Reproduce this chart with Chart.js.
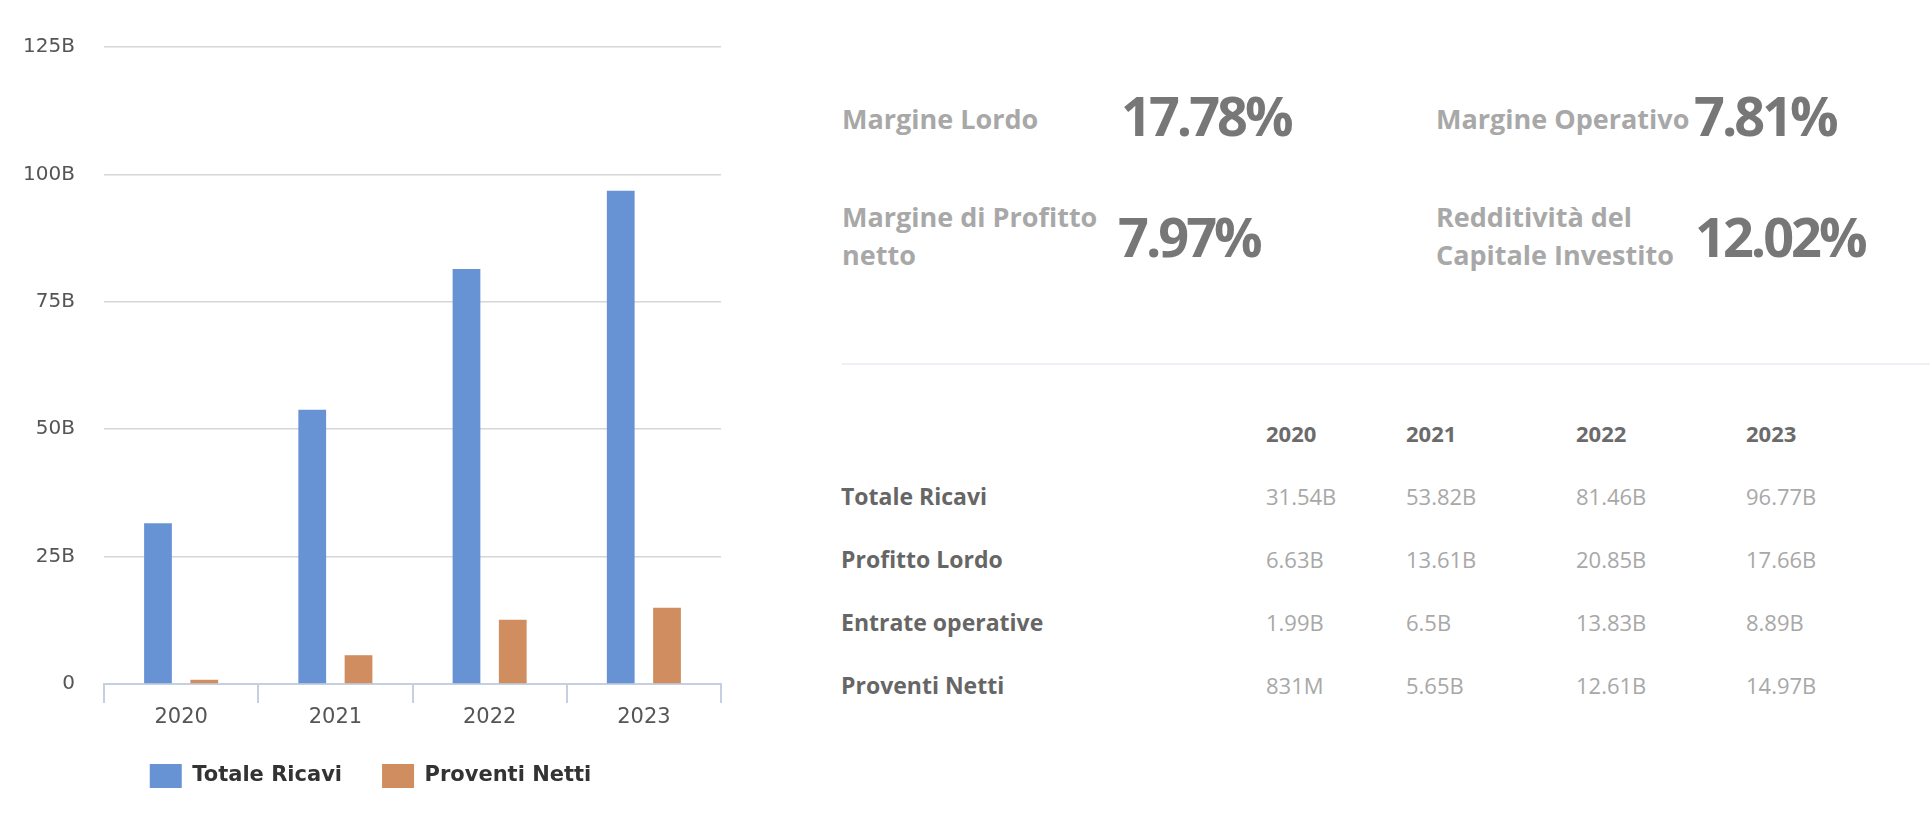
<!DOCTYPE html>
<html>
<head>
<meta charset="utf-8">
<script src="https://cdn.jsdelivr.net/npm/chart.js@4.4.1/dist/chart.umd.min.js"></script>
<style>
  body { margin: 0; width: 1930px; height: 838px; background: #fff; position: relative; overflow: hidden; font-family: 'Open Sans', sans-serif; }
  #chartBox { position: absolute; left: 0; top: 0; width: 740px; height: 838px; }
  .abs { position: absolute; white-space: nowrap; }
  .statLabel { font-size: 27px; line-height: 38px; font-weight: 700; color: #a8a8a8; }
  .statValue { font-size: 54px; line-height: 60px; font-weight: 700; color: #777; letter-spacing: -3px; }
  .divider { position: absolute; left: 842px; top: 363px; width: 1088px; height: 2px; background: #eff0f5; }
  .th { font-size: 22px; line-height: 30px; font-weight: 700; color: #6b6b6b; }
  .rowLabel { font-size: 23px; line-height: 30px; font-weight: 700; color: #666; }
  .cell { font-size: 22px; line-height: 30px; font-weight: 400; color: #a8a8a8; }
</style>
</head>
<body>
<div id="chartBox"><canvas id="finChart"></canvas></div>

<div class="abs statLabel" style="left:842px; top:100px;">Margine Lordo</div>
<div class="abs statValue" style="left:1121px; top:85px;">17.78%</div>
<div class="abs statLabel" style="left:1436px; top:100px;">Margine Operativo</div>
<div class="abs statValue" style="left:1694px; top:85px;">7.81%</div>
<div class="abs statLabel" style="left:842px; top:198px;">Margine di Profitto<br>netto</div>
<div class="abs statValue" style="left:1118px; top:206px;">7.97%</div>
<div class="abs statLabel" style="left:1436px; top:198px;">Redditività del<br>Capitale Investito</div>
<div class="abs statValue" style="left:1695px; top:206px;">12.02%</div>
<div class="divider"></div>
<div id="table"></div>

<script>
// Chart data (values in billions)
const years = ['2020', '2021', '2022', '2023'];
const totaleRicavi = [31.54, 53.82, 81.46, 96.77];
const proventiNetti = [0.831, 5.65, 12.61, 14.97];
const yTicks = [0, 25, 50, 75, 100, 125];

// Table data
const rowLabels = ['Totale Ricavi', 'Profitto Lordo', 'Entrate operative', 'Proventi Netti'];
const rowValues = [
  ['31.54B', '53.82B', '81.46B', '96.77B'],
  ['6.63B', '13.61B', '20.85B', '17.66B'],
  ['1.99B', '6.5B', '13.83B', '8.89B'],
  ['831M', '5.65B', '12.61B', '14.97B']
];

// Build the table on the right
function buildTable() {
  const colX = [1266, 1406, 1576, 1746];
  const rowTop = [481, 544, 607, 670];
  const box = document.getElementById('table');
  let html = '';
  years.forEach((y, i) => {
    html += `<div class="abs th" style="left:${colX[i]}px; top:418px;">${y}</div>`;
  });
  rowLabels.forEach((lab, r) => {
    html += `<div class="abs rowLabel" style="left:841px; top:${rowTop[r]}px;">${lab}</div>`;
    rowValues[r].forEach((v, c) => {
      html += `<div class="abs cell" style="left:${colX[c]}px; top:${rowTop[r]}px;">${v}</div>`;
    });
  });
  box.innerHTML = html;
}

buildTable();

const ctx = document.getElementById('finChart').getContext('2d');
new Chart(ctx, {
  type: 'bar',
  data: {
    labels: years,
    datasets: [
      { label: 'Totale Ricavi', data: totaleRicavi, backgroundColor: '#6793d5', categoryPercentage: 0.6, barPercentage: 0.6 },
      { label: 'Proventi Netti', data: proventiNetti, backgroundColor: '#d08d5f', categoryPercentage: 0.6, barPercentage: 0.6 }
    ]
  },
  options: {
    responsive: true,
    maintainAspectRatio: false,
    animation: false,
    layout: { padding: { top: 47, left: 20, right: 19, bottom: 40 } },
    plugins: {
      tooltip: { enabled: false },
      legend: {
        position: 'bottom',
        labels: {
          boxWidth: 32,
          boxHeight: 24,
          padding: 40,
          color: '#333',
          font: { family: 'DejaVu Sans', size: 21, weight: 'bold' }
        }
      }
    },
    scales: {
      x: {
        grid: { drawOnChartArea: false, tickLength: 19, color: '#c4cfe1', lineWidth: 2 },
        border: { color: '#c4cfe1', width: 2 },
        ticks: { color: '#555', padding: 2, font: { family: 'DejaVu Sans', size: 21 } },
        afterFit: s => { s.height = 40; }
      },
      y: {
        min: 0,
        max: 125,
        afterBuildTicks: s => { s.ticks = yTicks.map(v => ({ value: v })); },
        grid: { color: '#d6d6d6', lineWidth: 1.5, drawTicks: false },
        border: { display: false },
        ticks: {
          color: '#555',
          padding: 29,
          font: { family: 'DejaVu Sans', size: 20 },
          callback: v => v === 0 ? '0' : v + 'B'
        },
        afterFit: s => { s.width = 84; }
      }
    }
  }
});
</script>
</body>
</html>
